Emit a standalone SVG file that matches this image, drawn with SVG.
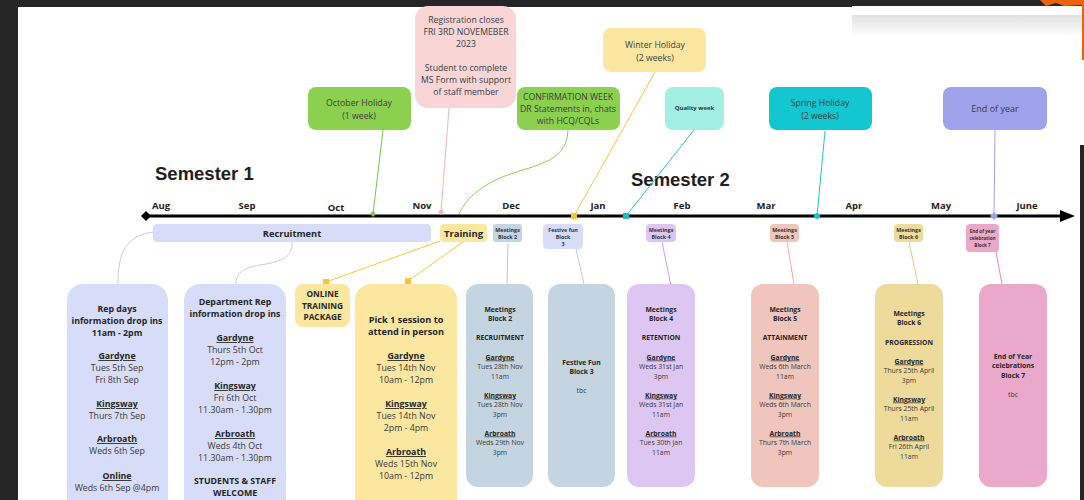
<svg xmlns="http://www.w3.org/2000/svg" width="1084" height="500" viewBox="0 0 1084 500">
<defs>
<style>
text{font-family:"Open Sans","Liberation Sans",sans-serif;text-anchor:middle}
.t{font-size:8.7px;fill:#3d3d3d}
.m{font-size:9.5px;font-weight:700;fill:#222}
.sem{font-family:"Liberation Sans",Arial,sans-serif;font-size:18.5px;font-weight:700;fill:#1e1e1e;text-anchor:start}
.c9{font-size:8.8px;fill:#3a3a3a}
.c9b{font-size:8.8px;font-weight:700;fill:#262626}
.c7{font-size:6.8px;fill:#3a3a3a}
.c7b{font-size:6.8px;font-weight:700;fill:#262626}
.s{font-size:5.4px;font-weight:700;fill:#333}
.u{text-decoration:underline}
.ln{fill:none;stroke-width:1}
</style>
<linearGradient id="sh" x1="0" y1="0" x2="0" y2="1">
<stop offset="0" stop-color="#000" stop-opacity="0.12"/>
<stop offset="1" stop-color="#000" stop-opacity="0"/>
</linearGradient>
</defs>

<!-- frame -->
<rect x="0" y="0" width="1084" height="500" fill="#262626"/>
<rect x="18" y="7" width="1066" height="493" fill="#ffffff"/>
<rect x="852" y="15" width="232" height="22" fill="url(#sh)"/>
<rect x="852" y="6" width="232" height="9" fill="#ffffff"/>
<path d="M1040,0 L1084,0 L1084,5 L1064,6 L1056,3 L1046,6 Z" fill="#e8640f"/>
<rect x="1082" y="0" width="2" height="60" fill="#e8640f"/>
<rect x="1080" y="145" width="4" height="355" fill="#242424"/>

<!-- headings -->
<g id="headings">
<text class="sem" x="155" y="180">Semester 1</text>
<text class="sem" x="631" y="186">Semester 2</text>
<text class="m" x="161" y="209">Aug</text>
<text class="m" x="247" y="209">Sep</text>
<text class="m" x="336" y="211">Oct</text>
<text class="m" x="422" y="209">Nov</text>
<text class="m" x="511" y="209">Dec</text>
<text class="m" x="598" y="209">Jan</text>
<text class="m" x="682" y="209">Feb</text>
<text class="m" x="766" y="209">Mar</text>
<text class="m" x="854" y="209">Apr</text>
<text class="m" x="941" y="209">May</text>
<text class="m" x="1027" y="209">June</text>
</g>

<!-- connectors -->
<g id="connectors">
<line class="ln" x1="383" y1="130" x2="373" y2="214" stroke="#7cc443"/>
<line class="ln" x1="449" y1="108" x2="441" y2="212" stroke="#f2b5b8"/>
<path class="ln" d="M568,130 C567,165 530,165 500,178 C478,188 465,200 458,216" stroke="#8bd04e"/>
<line class="ln" x1="655" y1="72" x2="574" y2="216" stroke="#f3c63c"/>
<line class="ln" x1="694" y1="130" x2="626" y2="216" stroke="#2bbfcc"/>
<line class="ln" x1="825" y1="131" x2="817" y2="216" stroke="#1cc3cc"/>
<line class="ln" x1="995" y1="130" x2="994" y2="216" stroke="#9ca2ec"/>
<path class="ln" d="M153,232 C126,236 118,252 118,284" stroke="#c4cdd9"/>
<path class="ln" d="M292,242 C293,258 280,262 260,265 C242,268 236,274 236,284" stroke="#c4cdd9"/>
<line class="ln" x1="440" y1="241" x2="326" y2="282" stroke="#f3c63c"/>
<line class="ln" x1="463" y1="242" x2="408" y2="281" stroke="#f3c63c"/>
<line class="ln" x1="508" y1="243" x2="507" y2="284" stroke="#b8c6d6"/>
<line class="ln" x1="576" y1="249" x2="584" y2="284" stroke="#c0c8e6"/>
<line class="ln" x1="662" y1="242" x2="671" y2="286" stroke="#c6a2e2"/>
<line class="ln" x1="787" y1="242" x2="794" y2="284" stroke="#e6aea2"/>
<line class="ln" x1="909" y1="242" x2="918" y2="284" stroke="#e0c67c"/>
<line class="ln" x1="996" y1="252" x2="1002" y2="284" stroke="#e08ab6"/>
<!-- timeline -->
<line x1="146" y1="216" x2="1064" y2="216" stroke="#000" stroke-width="3"/>
<polygon points="141,216 146,211 151,216 146,221" fill="#000"/>
<polygon points="1060,210 1075,216 1060,222" fill="#000"/>
<!-- markers -->
<polygon points="373,211 376,214 373,217 370,214" fill="#7cc443"/>
<polygon points="441,209 444,212 441,215 438,212" fill="#f2b5b8"/>
<rect x="571" y="213" width="6" height="6" fill="#f3c63c"/>
<rect x="623" y="213" width="6" height="6" fill="#1fbcc8"/>
<circle cx="817" cy="216" r="3" fill="#1cc3cc"/>
<polygon points="994,212 998,216 994,220 990,216" fill="#9ca2ec"/>
<rect x="323" y="279" width="6" height="6" fill="#f3c63c"/>
<rect x="405" y="278" width="6" height="6" fill="#f3c63c"/>
<polygon points="671,283 675,287 671,291 667,287" fill="#c6a2e2"/>
</g>

<!-- top boxes -->
<g id="october-holiday">
<rect x="308" y="87" width="103" height="43" rx="8" fill="#8bd04e"/>
<text class="t" x="359" y="106">October Holiday</text>
<text class="t" x="359" y="119">(1 week)</text>
</g>
<g id="registration">
<rect x="415" y="6" width="101" height="102" rx="13" fill="#f9d5d6"/>
<text class="t" x="466" y="23">Registration closes</text>
<text class="t" x="466" y="35">FRI 3RD NOVEMEBER</text>
<text class="t" x="466" y="47">2023</text>
<text class="t" x="466" y="71">Student to complete</text>
<text class="t" x="466" y="83">MS Form with support</text>
<text class="t" x="466" y="95">of staff member</text>
</g>
<g id="confirmation-week">
<rect x="517" y="87" width="103" height="43" rx="8" fill="#8bd04e"/>
<text class="t" x="568" y="100">CONFIRMATION WEEK</text>
<text class="t" x="568" y="112">DR Statements in, chats</text>
<text class="t" x="568" y="124">with HCQ/CQLs</text>
</g>
<g id="winter-holiday">
<rect x="603" y="28" width="103" height="44" rx="8" fill="#fbe7a0"/>
<text class="t" x="655" y="48">Winter Holiday</text>
<text class="t" x="655" y="61">(2 weeks)</text>
</g>
<g id="quality-week">
<rect x="665" y="87" width="59" height="43" rx="8" fill="#a2f0e1"/>
<text class="s" x="694.5" y="110" style="font-size:6px">Quality week</text>
</g>
<g id="spring-holiday">
<rect x="769" y="87" width="103" height="43" rx="8" fill="#12c7cf"/>
<text class="t" x="820" y="106">Spring Holiday</text>
<text class="t" x="820" y="119">(2 weeks)</text>
</g>
<g id="end-of-year">
<rect x="943" y="87" width="104" height="43" rx="8" fill="#9ea3ec"/>
<text class="t" x="995" y="112" style="font-size:9px">End of year</text>
</g>

<!-- labels under timeline -->
<g id="recruitment">
<rect x="153" y="224" width="278" height="18" rx="4" fill="#d7ddf8"/>
<text class="c9b" x="292" y="236.5" style="font-size:9.3px">Recruitment</text>
</g>
<g id="training">
<rect x="440" y="224" width="47" height="18" rx="4" fill="#fbe7a0"/>
<text class="c9b" x="463.5" y="237" style="font-size:9.5px">Training</text>
</g>
<g id="label-block2">
<rect x="493" y="224" width="29" height="18" rx="3" fill="#c5d4e1"/>
<text class="s" x="507.5" y="231.5">Meetings</text>
<text class="s" x="507.5" y="239">Block 2</text>
</g>
<g id="label-block3">
<rect x="543" y="224" width="40" height="25" rx="4" fill="#d7ddf8"/>
<text class="s" x="563" y="231.5">Festive fun</text>
<text class="s" x="563" y="239">Block</text>
<text class="s" x="563" y="246">3</text>
</g>
<g id="label-block4">
<rect x="646" y="224" width="30" height="18" rx="4" fill="#ddc6f1"/>
<text class="s" x="661" y="231.5">Meetings</text>
<text class="s" x="661" y="239">Block 4</text>
</g>
<g id="label-block5">
<rect x="770" y="224" width="29" height="18" rx="4" fill="#efc5bc"/>
<text class="s" x="784.5" y="231.5">Meetings</text>
<text class="s" x="784.5" y="239">Block 5</text>
</g>
<g id="label-block6">
<rect x="894" y="224" width="29" height="18" rx="4" fill="#eedb9c"/>
<text class="s" x="908.5" y="231.5">Meetings</text>
<text class="s" x="908.5" y="239">Block 6</text>
</g>
<g id="label-block7">
<rect x="966" y="224" width="33" height="28" rx="4" fill="#eaa9cb"/>
<text class="s" x="982.5" y="233" style="font-size:4.6px">End of year</text>
<text class="s" x="982.5" y="240" style="font-size:4.6px">celebration</text>
<text class="s" x="982.5" y="247" style="font-size:4.6px">Block 7</text>
</g>

<!-- cards -->
<g id="rep-days">
<rect x="67" y="284" width="101" height="240" rx="16" fill="#d7ddf8"/>
<text class="c9b" x="117" y="312">Rep days</text>
<text class="c9b" x="117" y="324">information drop ins</text>
<text class="c9b" x="117" y="336">11am - 2pm</text>
<text class="c9b u" x="117" y="359">Gardyne</text>
<text class="c9" x="117" y="371">Tues 5th Sep</text>
<text class="c9" x="117" y="383">Fri 8th Sep</text>
<text class="c9b u" x="117" y="407">Kingsway</text>
<text class="c9" x="117" y="419">Thurs 7th Sep</text>
<text class="c9b u" x="117" y="442">Arbroath</text>
<text class="c9" x="117" y="454">Weds 6th Sep</text>
<text class="c9b u" x="117" y="479">Online</text>
<text class="c9" x="117" y="491">Weds 6th Sep @4pm</text>
</g>
<g id="department-rep">
<rect x="184" y="284" width="102" height="240" rx="16" fill="#d7ddf8"/>
<text class="c9b" x="235" y="305">Department Rep</text>
<text class="c9b" x="235" y="317">information drop ins</text>
<text class="c9b u" x="235" y="341">Gardyne</text>
<text class="c9" x="235" y="353">Thurs 5th Oct</text>
<text class="c9" x="235" y="365">12pm - 2pm</text>
<text class="c9b u" x="235" y="389">Kingsway</text>
<text class="c9" x="235" y="401">Fri 6th Oct</text>
<text class="c9" x="235" y="413">11.30am - 1.30pm</text>
<text class="c9b u" x="235" y="437">Arbroath</text>
<text class="c9" x="235" y="449">Weds 4th Oct</text>
<text class="c9" x="235" y="461">11.30am - 1.30pm</text>
<text class="c9b" x="235" y="484">STUDENTS &amp; STAFF</text>
<text class="c9b" x="235" y="496">WELCOME</text>
</g>
<g id="online-training">
<rect x="295" y="284" width="55" height="43" rx="8" fill="#fbe7a0"/>
<text class="c9b" x="322.5" y="297" style="font-size:8.3px">ONLINE</text>
<text class="c9b" x="322.5" y="308.5" style="font-size:8.3px">TRAINING</text>
<text class="c9b" x="322.5" y="320" style="font-size:8.3px">PACKAGE</text>
</g>
<g id="pick-one">
<rect x="355" y="284" width="102" height="240" rx="16" fill="#fbe7a0"/>
<text class="c9b" x="406" y="323" style="font-size:9.2px">Pick 1 session to</text>
<text class="c9b" x="406" y="335" style="font-size:9.2px">attend in person</text>
<text class="c9b u" x="406" y="359">Gardyne</text>
<text class="c9" x="406" y="371">Tues 14th Nov</text>
<text class="c9" x="406" y="383">10am - 12pm</text>
<text class="c9b u" x="406" y="407">Kingsway</text>
<text class="c9" x="406" y="419">Tues 14th Nov</text>
<text class="c9" x="406" y="431">2pm - 4pm</text>
<text class="c9b u" x="406" y="455">Arbroath</text>
<text class="c9" x="406" y="467">Weds 15th Nov</text>
<text class="c9" x="406" y="479">10am - 12pm</text>
</g>
<g id="block2">
<rect x="466" y="284" width="67" height="203" rx="12" fill="#c5d4e1"/>
<text class="c7b" x="500" y="311.5">Meetings</text>
<text class="c7b" x="500" y="321">Block 2</text>
<text class="c7b" x="500" y="339.5">RECRUITMENT</text>
<text class="c7b u" x="500" y="359.5">Gardyne</text>
<text class="c7" x="500" y="369">Tues 28th Nov</text>
<text class="c7" x="500" y="378.5">11am</text>
<text class="c7b u" x="500" y="397.5">Kingsway</text>
<text class="c7" x="500" y="407">Tues 28th Nov</text>
<text class="c7" x="500" y="416.5">3pm</text>
<text class="c7b u" x="500" y="435.5">Arbroath</text>
<text class="c7" x="500" y="445">Weds 29th Nov</text>
<text class="c7" x="500" y="454.5">3pm</text>
</g>
<g id="block3">
<rect x="548" y="284" width="67" height="203" rx="12" fill="#c5d4e1"/>
<text class="c7b" x="581.5" y="364.5">Festive Fun</text>
<text class="c7b" x="581.5" y="374">Block 3</text>
<text class="c7" x="581.5" y="392.5">tbc</text>
</g>
<g id="block4">
<rect x="627" y="284" width="68" height="203" rx="12" fill="#ddc6f1"/>
<text class="c7b" x="661" y="311.5">Meetings</text>
<text class="c7b" x="661" y="321">Block 4</text>
<text class="c7b" x="661" y="339.5">RETENTION</text>
<text class="c7b u" x="661" y="359.5">Gardyne</text>
<text class="c7" x="661" y="369">Weds 31st Jan</text>
<text class="c7" x="661" y="378.5">3pm</text>
<text class="c7b u" x="661" y="397.5">Kingsway</text>
<text class="c7" x="661" y="407">Weds 31st Jan</text>
<text class="c7" x="661" y="416.5">11am</text>
<text class="c7b u" x="661" y="435.5">Arbroath</text>
<text class="c7" x="661" y="445">Tues 30th Jan</text>
<text class="c7" x="661" y="454.5">11am</text>
</g>
<g id="block5">
<rect x="751" y="284" width="68" height="203" rx="12" fill="#efc5bc"/>
<text class="c7b" x="785" y="311.5">Meetings</text>
<text class="c7b" x="785" y="321">Block 5</text>
<text class="c7b" x="785" y="339.5">ATTAINMENT</text>
<text class="c7b u" x="785" y="359.5">Gardyne</text>
<text class="c7" x="785" y="369">Weds 6th March</text>
<text class="c7" x="785" y="378.5">11am</text>
<text class="c7b u" x="785" y="397.5">Kingsway</text>
<text class="c7" x="785" y="407">Weds 6th March</text>
<text class="c7" x="785" y="416.5">3pm</text>
<text class="c7b u" x="785" y="435.5">Arbroath</text>
<text class="c7" x="785" y="445">Thurs 7th March</text>
<text class="c7" x="785" y="454.5">3pm</text>
</g>
<g id="block6">
<rect x="875" y="284" width="68" height="203" rx="12" fill="#eedb9c"/>
<text class="c7b" x="909" y="315.5">Meetings</text>
<text class="c7b" x="909" y="325">Block 6</text>
<text class="c7b" x="909" y="344.5">PROGRESSION</text>
<text class="c7b u" x="909" y="363.5">Gardyne</text>
<text class="c7" x="909" y="373">Thurs 25th April</text>
<text class="c7" x="909" y="382.5">3pm</text>
<text class="c7b u" x="909" y="401.5">Kingsway</text>
<text class="c7" x="909" y="411">Thurs 25th April</text>
<text class="c7" x="909" y="420.5">11am</text>
<text class="c7b u" x="909" y="439.5">Arbroath</text>
<text class="c7" x="909" y="449">Fri 26th April</text>
<text class="c7" x="909" y="458.5">11am</text>
</g>
<g id="block7">
<rect x="979" y="284" width="68" height="203" rx="12" fill="#eaa9cb"/>
<text class="c7b" x="1013" y="358.5">End of Year</text>
<text class="c7b" x="1013" y="368">celebrations</text>
<text class="c7b" x="1013" y="377.5">Block 7</text>
<text class="c7" x="1013" y="396.5">tbc</text>
</g>
</svg>
